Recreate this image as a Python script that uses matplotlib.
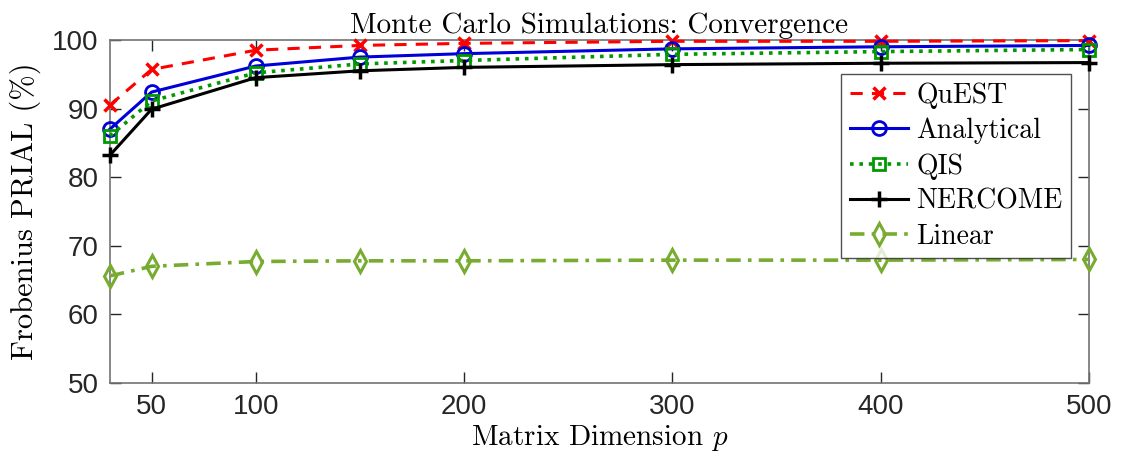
import numpy as np
import matplotlib.pyplot as plt

plt.rcParams['mathtext.fontset'] = 'cm'
plt.rcParams['font.family'] = ['Liberation Sans', 'DejaVu Sans']
plt.rcParams['axes.unicode_minus'] = False

# Datos
p = [30, 50, 100, 150, 200, 300, 400, 500]
quest = [90.5, 95.7, 98.5, 99.2, 99.5, 99.8, 99.8, 99.9]
analytical = [87.0, 92.4, 96.2, 97.5, 98.0, 98.7, 99.0, 99.2]
qis = [86.0, 91.1, 95.2, 96.5, 97.0, 97.9, 98.3, 98.6]
nercome = [83.2, 89.9, 94.5, 95.5, 96.0, 96.4, 96.6, 96.7]
linear = [65.6, 67.0, 67.7, 67.8, 67.8, 67.9, 67.9, 68.0]

xticks = [50, 100, 200, 300, 400, 500]
yticks = [50, 60, 70, 80, 90, 100]

fig = plt.figure(figsize=(11.22, 4.67), dpi=100)
ax = fig.add_axes([0.098, 0.18, 0.8725, 0.7345])

lw = 2.2
ms = 9
kw = dict(clip_on=False, zorder=3)
ax.plot(p, quest, color='red', lw=lw, linestyle=(0, (4, 3)), marker='x',
        ms=ms, mew=2.5, label='QuEST', **kw)
ax.plot(p, analytical, color=(0, 0, 0.85), lw=lw, linestyle='-', marker='o',
        ms=ms + 1, mew=2, mfc='none', label='Analytical', **kw)
ax.plot(p, qis, color=(0, 0.6, 0), lw=lw + 0.4, linestyle=(0, (1, 1.6)), marker='s',
        ms=ms, mew=2, mfc='none', label='QIS', **kw)
ax.plot(p, nercome, color='black', lw=lw, linestyle='-', marker='+',
        ms=ms + 3, mew=2.5, label='NERCOME', **kw)
ax.plot(p, linear, color=(0.466, 0.674, 0.188), lw=lw + 0.4, linestyle=(0, (4, 2, 1, 2)),
        marker='d', ms=ms + 2, mew=2.2, mfc='none', label='Linear', **kw)

ax.set_xlim(30, 500)
ax.set_ylim(50, 100)
ax.set_xticks(xticks)
ax.set_yticks(yticks)
ax.tick_params(direction='in', top=True, right=True, length=8, width=1,
               labelsize=20, colors=(0.15, 0.15, 0.15), pad=8)
for s in ax.spines.values():
    s.set_color((0.45, 0.45, 0.45))
    s.set_linewidth(1.2)

serif = 'cmr10'
ax.set_title('Monte Carlo Simulations: Convergence', fontsize=21, fontfamily=serif, pad=5)
ax.set_xlabel(r'Matrix Dimension $p$', fontsize=21, fontfamily=serif, labelpad=2)
ax.set_ylabel('Frobenius PRIAL (%)', fontsize=22, fontfamily=serif, labelpad=8)

leg = ax.legend(loc='upper right', bbox_to_anchor=(0.9816, 0.9009),
                prop={'family': serif, 'size': 20},
                frameon=True, fancybox=False, handlelength=2.1, handletextpad=0.3,
                labelspacing=0.32, borderpad=0.3, borderaxespad=0)
leg.get_frame().set_edgecolor((0.15, 0.15, 0.15))
leg.get_frame().set_linewidth(1)

fig.savefig('out.png', dpi=100)
